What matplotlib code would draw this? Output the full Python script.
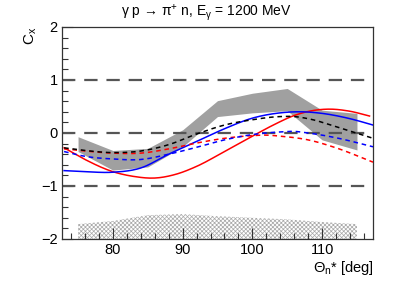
import matplotlib
matplotlib.use("Agg")
import matplotlib.pyplot as plt
import numpy as np
from matplotlib.ticker import MultipleLocator

plt.rcParams['font.family'] = ['Liberation Sans', 'DejaVu Sans']
plt.rcParams['mathtext.fontset'] = 'custom'
plt.rcParams['mathtext.rm'] = 'Liberation Sans'
plt.rcParams['mathtext.it'] = 'Liberation Sans'
plt.rcParams['mathtext.bf'] = 'Liberation Sans:bold'
plt.rcParams['mathtext.sf'] = 'Liberation Sans'
plt.rcParams['hatch.linewidth'] = 0.5
plt.rcParams['hatch.color'] = '#a8a8a8'

# Data band (grey)
band_x = [75, 80, 85, 90, 95, 100, 105, 110, 115]
band_lo = [-0.35, -0.70, -0.64, -0.26, 0.31, 0.38, 0.42, -0.13, -0.32]
band_hi = [-0.07, -0.33, -0.29, 0.06, 0.61, 0.75, 0.84, 0.43, 0.37]

# Systematic error (hatched)
sys_x = [75, 80, 85, 90, 95, 100, 105, 110, 115]
sys_hi = [-1.72, -1.66, -1.55, -1.53, -1.57, -1.60, -1.63, -1.68, -1.72]

# Model curves
red_solid_x = [73, 76, 80, 83, 86, 89, 92, 96, 100, 103, 106, 109, 111, 114, 116.8]
red_solid_y = [-0.28, -0.50, -0.73, -0.82, -0.85, -0.78, -0.63, -0.35, -0.06, 0.15, 0.33, 0.43, 0.45, 0.41, 0.32]

blue_solid_x = [73, 76, 80, 84, 88, 92, 96, 100, 104, 107, 110, 114, 117.3]
blue_solid_y = [-0.71, -0.73, -0.74, -0.66, -0.40, -0.16, 0.08, 0.28, 0.38, 0.40, 0.37, 0.27, 0.15]

red_dash_x = [73, 76, 80, 84, 88, 92, 96, 100, 102, 104, 108, 112, 117.3]
red_dash_y = [-0.30, -0.34, -0.38, -0.38, -0.30, -0.19, -0.10, -0.05, -0.04, -0.06, -0.13, -0.28, -0.55]

blue_dash_x = [73, 76, 80, 84, 88, 92, 96, 100, 104, 106, 108, 112, 117.3]
blue_dash_y = [-0.35, -0.44, -0.49, -0.50, -0.40, -0.27, -0.13, -0.03, 0.02, 0.03, 0.00, -0.09, -0.26]

black_dash_x = [73, 76, 80, 84, 88, 92, 96, 100, 104, 106, 108, 112, 117.3]
black_dash_y = [-0.28, -0.33, -0.37, -0.34, -0.22, -0.02, 0.15, 0.25, 0.31, 0.31, 0.27, 0.12, -0.10]

hlines = [-1, 0, 1]


def smooth(x, y, n=200):
    x = np.asarray(x, float); y = np.asarray(y, float)
    xs = np.linspace(x[0], x[-1], n)
    m = np.gradient(y, x)
    ys = np.empty_like(xs)
    for i, xv in enumerate(xs):
        k = min(np.searchsorted(x, xv, side='right') - 1, len(x) - 2)
        h = x[k+1] - x[k]
        t = (xv - x[k]) / h
        h00 = 2*t**3 - 3*t**2 + 1
        h10 = t**3 - 2*t**2 + t
        h01 = -2*t**3 + 3*t**2
        h11 = t**3 - t**2
        ys[i] = h00*y[k] + h10*h*m[k] + h01*y[k+1] + h11*h*m[k+1]
    return xs, ys


fig = plt.figure(figsize=(4.15, 2.82), dpi=100)
ax = fig.add_axes([0.1494, 0.1525, 0.7494, 0.7518])

ax.fill_between(band_x, band_lo, band_hi, color='#a0a0a0', lw=0, zorder=1)
ax.fill_between(sys_x, -2, sys_hi, facecolor='white', edgecolor='#a8a8a8',
                hatch='x' * 8, lw=0, zorder=1)

for yv in hlines:
    ax.axhline(yv, color='#555555', lw=1.6, ls=(0, (6, 4)), zorder=2)

x, y = smooth(red_solid_x, red_solid_y)
ax.plot(x, y, color='#ff0000', lw=1.1, zorder=3)
x, y = smooth(blue_solid_x, blue_solid_y)
ax.plot(x, y, color='#0000ff', lw=1.1, zorder=3)
x, y = smooth(red_dash_x, red_dash_y)
ax.plot(x, y, color='#ff0000', lw=1.1, ls=(0, (3, 2.5)), zorder=3)
x, y = smooth(blue_dash_x, blue_dash_y)
ax.plot(x, y, color='#0000ff', lw=1.1, ls=(0, (3, 2.5)), zorder=3)
x, y = smooth(black_dash_x, black_dash_y)
ax.plot(x, y, color='#000000', lw=1.1, ls=(0, (3, 2.5)), zorder=3)

ax.set_xlim(72.7, 117.3)
ax.set_ylim(-2, 2)
ax.xaxis.set_major_locator(MultipleLocator(10))
ax.xaxis.set_minor_locator(MultipleLocator(2))
ax.yaxis.set_major_locator(MultipleLocator(1))
ax.yaxis.set_minor_locator(MultipleLocator(0.2))
ax.tick_params(which='both', direction='in', top=False, right=False,
               labelsize=10.5, color='#333333', width=0.8)
ax.tick_params(which='major', length=8, pad=3)
ax.tick_params(which='minor', length=4)
ax.set_yticks([-2, -1, 0, 1, 2])
ax.set_yticklabels(['\u22122', '\u22121', '0', '1', '2'])
for s in ax.spines.values():
    s.set_color('#333333')
    s.set_linewidth(0.9)

fig.text(0.497, 0.955, '\u03b3 p \u2192 \u03c0$^{+}$ n, E$_{\u03b3}$ = 1200 MeV',
         ha='center', va='center', fontsize=10)
fig.text(0.075, 0.905, r'C$_{x}$', rotation=90, ha='center', va='top', fontsize=11)
fig.text(0.90, 0.05, '\u0398$_{\\mathrm{n}}$* [deg]', ha='right', va='center', fontsize=10.5)

fig.savefig('out.png', dpi=100)
